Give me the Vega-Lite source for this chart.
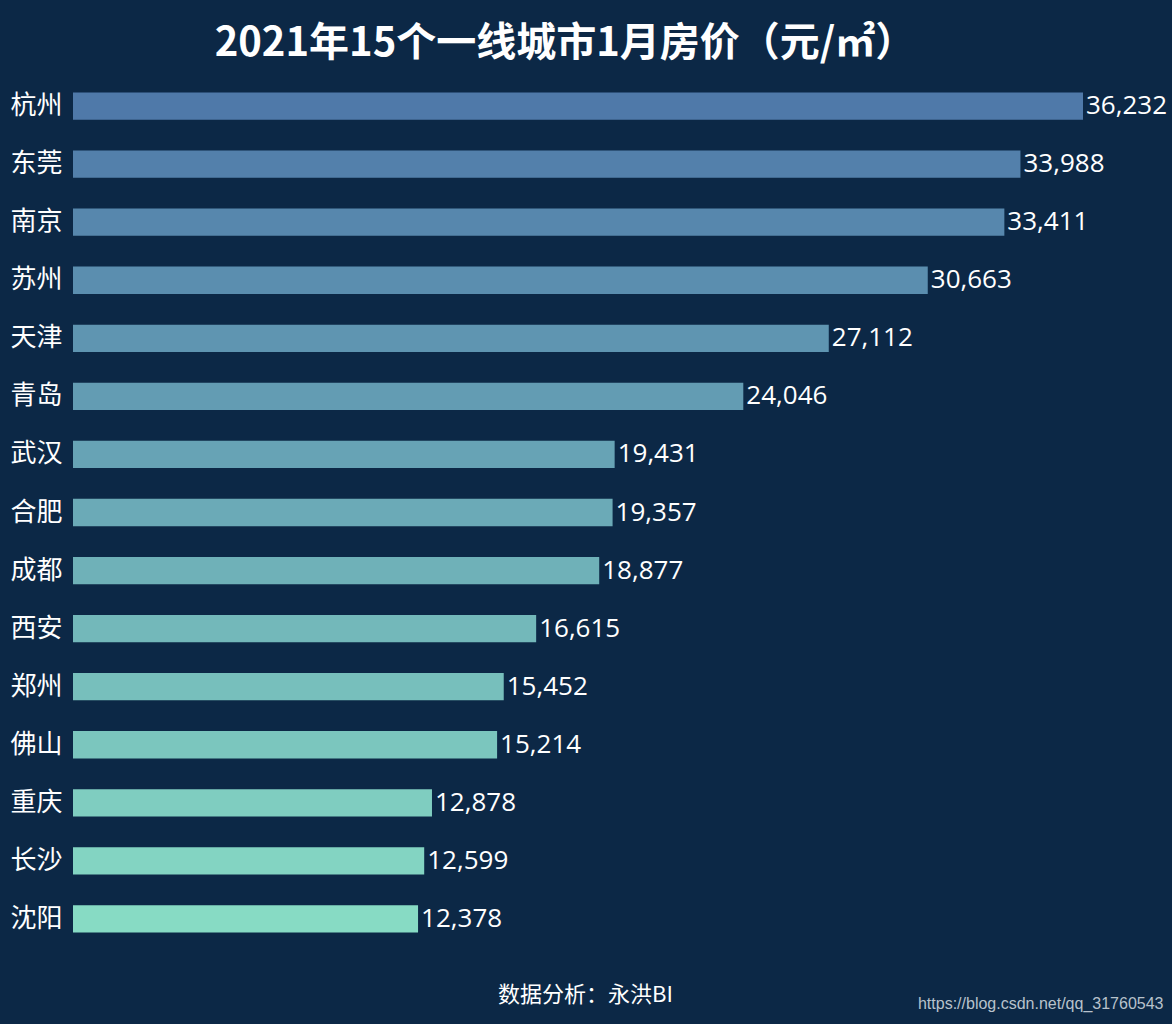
{
  "$schema": "https://vega.github.io/schema/vega-lite/v6.json",
  "autosize": {"type": "none"},
  "width": 1010,
  "height": 871,
  "padding": {"left": 73, "top": 77, "right": 89, "bottom": 76},
  "background": "#0c2846",
  "title": {
    "text": "2021年15个一线城市1月房价（元/㎡）",
    "fontSize": 40,
    "fontWeight": "bold",
    "color": "#ffffff",
    "font": "Noto Sans CJK SC",
    "anchor": "middle",
    "dx": -13,
    "offset": 13
  },
  "data": {
    "values": [
      {"city": "杭州", "price": 36232, "rank": 1},
      {"city": "东莞", "price": 33988, "rank": 2},
      {"city": "南京", "price": 33411, "rank": 3},
      {"city": "苏州", "price": 30663, "rank": 4},
      {"city": "天津", "price": 27112, "rank": 5},
      {"city": "青岛", "price": 24046, "rank": 6},
      {"city": "武汉", "price": 19431, "rank": 7},
      {"city": "合肥", "price": 19357, "rank": 8},
      {"city": "成都", "price": 18877, "rank": 9},
      {"city": "西安", "price": 16615, "rank": 10},
      {"city": "郑州", "price": 15452, "rank": 11},
      {"city": "佛山", "price": 15214, "rank": 12},
      {"city": "重庆", "price": 12878, "rank": 13},
      {"city": "长沙", "price": 12599, "rank": 14},
      {"city": "沈阳", "price": 12378, "rank": 15}
    ]
  },
  "encoding": {
    "y": {
      "field": "city",
      "type": "nominal",
      "sort": {"field": "rank", "order": "ascending"},
      "scale": {"paddingInner": 0.53, "paddingOuter": 0.265},
      "axis": {
        "title": "https://blog.csdn.net/qq_31760543",
        "titleAngle": 0,
        "titleX": 1090,
        "titleY": 926,
        "titleAlign": "right",
        "titleBaseline": "middle",
        "titleFont": "Liberation Sans",
        "titleFontSize": 16,
        "titleFontWeight": "normal",
        "titleColor": "#b8c2cc",
        "domain": false,
        "ticks": false,
        "grid": false,
        "labelPadding": 11,
        "labelFontSize": 26,
        "labelFont": "Noto Sans CJK SC",
        "labelColor": "#ffffff"
      }
    },
    "x": {
      "field": "price",
      "type": "quantitative",
      "scale": {"domain": [0, 36232], "nice": false, "zero": true},
      "axis": {
        "title": "数据分析：永洪BI",
        "titleFont": "Noto Sans CJK SC",
        "titleFontSize": 22,
        "titleFontWeight": "normal",
        "titleColor": "#ffffff",
        "titleX": 512,
        "titleY": 46,
        "titleAlign": "center",
        "titleBaseline": "middle",
        "domain": false,
        "ticks": false,
        "labels": false,
        "grid": false
      }
    }
  },
  "layer": [
    {
      "mark": {"type": "bar"},
      "encoding": {
        "color": {
          "field": "rank",
          "type": "quantitative",
          "scale": {"domain": [1, 15], "range": ["#4f79a9", "#87dbc4"], "interpolate": "rgb"},
          "legend": null
        }
      }
    },
    {
      "mark": {
        "type": "text",
        "align": "left",
        "baseline": "middle",
        "dx": 3,
        "fontSize": 26,
        "font": "Open Sans",
        "color": "#ffffff"
      },
      "encoding": {
        "text": {"field": "price", "type": "quantitative", "format": ","}
      }
    }
  ],
  "config": {"view": {"stroke": null}}
}
